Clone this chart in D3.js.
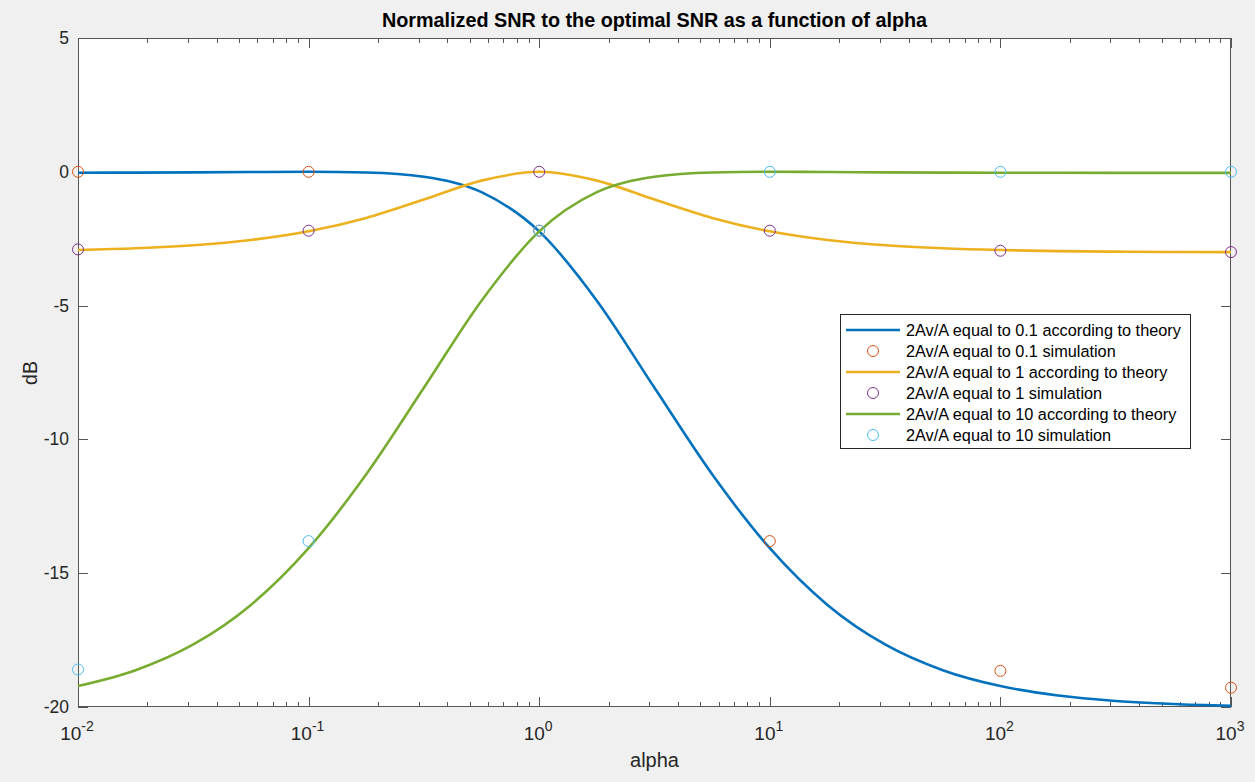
<!DOCTYPE html>
<html lang="en">
<head>
    <meta charset="UTF-8">
    <title>Normalized SNR</title>
    <script src="https://d3js.org/d3.v7.min.js"></script>
    <style>
        body { margin: 0; background: #f0f0f0; }
        text { font-family: Arial, "Liberation Sans", Helvetica, sans-serif; fill: #262626; }
    </style>
</head>
<body>
    <svg></svg>
    <script>
        // theory curves sampled at 4 points per decade
        const alphaTheory = [0.01, 0.01778, 0.03162, 0.05623, 0.1, 0.1778, 0.3162, 0.5623, 1, 1.778, 3.162,
            5.623, 10, 17.78, 31.62, 56.23, 100, 177.8, 316.2, 562.3, 1000];
        const theory01 = [-0.035, -0.029, -0.020, -0.008, 0, -0.025, -0.187, -0.761, -2.226, -4.815, -8.071,
            -11.303, -14.066, -16.184, -17.662, -18.624, -19.216, -19.569, -19.773, -19.890, -19.957];
        const theory1 = [-2.924, -2.858, -2.745, -2.550, -2.225, -1.724, -1.038, -0.330, 0, -0.330, -1.038,
            -1.724, -2.225, -2.550, -2.745, -2.858, -2.924, -2.963, -2.983, -2.995, -3.002];
        const theory10 = [-19.216, -18.624, -17.662, -16.184, -14.066, -11.303, -8.071, -4.815, -2.226, -0.761, -0.187,
            -0.025, 0, -0.008, -0.020, -0.029, -0.035, -0.038, -0.040, -0.042, -0.042];

        // simulation points
        const alphaSim = [0.01, 0.1, 1, 10, 100, 1000];
        const sim01 = [0, 0, -2.2, -13.8, -18.65, -19.28];
        const sim1 = [-2.9, -2.2, 0, -2.2, -2.95, -3.0];
        const sim10 = [-18.6, -13.8, -2.2, 0, 0, 0];

        const yTicks = [-20, -15, -10, -5, 0, 5];
        const xTickExp = [-2, -1, 0, 1, 2, 3];

        const width = 1255, height = 782;
        const mLeft = 78, mRight = 1231, mTop = 38, mBottom = 707;

        const svg = d3.select("svg").attr("width", width).attr("height", height);
        svg.append("rect").attr("width", width).attr("height", height).attr("fill", "#f0f0f0");
        svg.append("rect").attr("x", mLeft).attr("y", mTop)
            .attr("width", mRight - mLeft).attr("height", mBottom - mTop).attr("fill", "#fff");

        const x = d3.scaleLog().domain([1e-2, 1e3]).range([mLeft, mRight]);
        const y = d3.scaleLinear().domain([-20, 5]).range([mBottom, mTop]);

        // ticks (inward, on all four sides)
        const ax = svg.append("g").attr("stroke", "#555").attr("stroke-width", 1);
        const minor = [];
        xTickExp.slice(0, -1).forEach(e => { for (let m = 2; m <= 9; m++) minor.push(m * Math.pow(10, e)); });
        xTickExp.forEach(e => {
            const px = Math.round(x(Math.pow(10, e))) + 0.5;
            ax.append("line").attr("x1", px).attr("x2", px).attr("y1", mBottom).attr("y2", mBottom - 10);
            ax.append("line").attr("x1", px).attr("x2", px).attr("y1", mTop).attr("y2", mTop + 10);
        });
        minor.forEach(v => {
            const px = Math.round(x(v)) + 0.5;
            ax.append("line").attr("x1", px).attr("x2", px).attr("y1", mBottom).attr("y2", mBottom - 5);
            ax.append("line").attr("x1", px).attr("x2", px).attr("y1", mTop).attr("y2", mTop + 5);
        });
        yTicks.forEach(t => {
            const py = Math.round(y(t)) + 0.5;
            ax.append("line").attr("x1", mLeft).attr("x2", mLeft + 10).attr("y1", py).attr("y2", py);
            ax.append("line").attr("x1", mRight).attr("x2", mRight - 10).attr("y1", py).attr("y2", py);
        });
        ax.append("rect").attr("x", mLeft + 0.5).attr("y", mTop + 0.5)
            .attr("width", mRight - mLeft - 1).attr("height", mBottom - mTop - 1).attr("fill", "none");

        // tick labels
        svg.selectAll(".ylab").data(yTicks).join("text")
            .attr("x", mLeft - 9).attr("y", d => y(d) + 6)
            .attr("text-anchor", "end").attr("font-size", 17.5).text(d => d);
        const xl = svg.selectAll(".xlab").data(xTickExp).join("text")
            .attr("x", d => x(Math.pow(10, d)) - 1).attr("y", 740)
            .attr("text-anchor", "middle").attr("font-size", 19);
        xl.append("tspan").text("10");
        xl.append("tspan").attr("dy", -9).attr("font-size", 14).text(d => d);

        // titles
        svg.append("text").attr("x", (mLeft + mRight) / 2).attr("y", 27).attr("text-anchor", "middle")
            .attr("font-size", 19.8).attr("font-weight", "bold").style("fill", "#000")
            .text("Normalized SNR to the optimal SNR as a function of alpha");
        svg.append("text").attr("x", (mLeft + mRight) / 2).attr("y", 767).attr("text-anchor", "middle")
            .attr("font-size", 20).text("alpha");
        svg.append("text").attr("transform", "translate(37,373) rotate(-90)").attr("text-anchor", "middle")
            .attr("font-size", 19.5).text("dB");

        const line = d3.line().x(d => x(d[0])).y(d => y(d[1])).curve(d3.curveMonotoneX);

        const series = [
            { type: "line", ys: theory01, color: "#0072BD", label: "2Av/A equal to 0.1 according to theory" },
            { type: "dot", ys: sim01, color: "#D95319", label: "2Av/A equal to 0.1 simulation" },
            { type: "line", ys: theory1, color: "#EDB120", label: "2Av/A equal to 1 according to theory" },
            { type: "dot", ys: sim1, color: "#7E2F8E", label: "2Av/A equal to 1 simulation" },
            { type: "line", ys: theory10, color: "#77AC30", label: "2Av/A equal to 10 according to theory" },
            { type: "dot", ys: sim10, color: "#4DBEEE", label: "2Av/A equal to 10 simulation" }
        ];

        series.forEach(s => {
            if (s.type === "line") {
                svg.append("path").datum(alphaTheory.map((a, i) => [a, s.ys[i]]))
                    .attr("d", line).attr("fill", "none").attr("stroke", s.color).attr("stroke-width", 2.6);
            } else {
                svg.append("g").selectAll("circle").data(alphaSim.map((a, i) => [a, s.ys[i]])).join("circle")
                    .attr("cx", d => x(d[0])).attr("cy", d => y(d[1])).attr("r", 5.5)
                    .attr("fill", "none").attr("stroke", s.color).attr("stroke-width", 1);
            }
        });

        // legend
        const lg = svg.append("g");
        lg.append("rect").attr("x", 840.5).attr("y", 314.5).attr("width", 350).attr("height", 134)
            .attr("fill", "#fff").attr("stroke", "#262626").attr("stroke-width", 1);
        series.forEach((s, i) => {
            const cy = 330 + i * 21;
            if (s.type === "line") {
                lg.append("line").attr("x1", 846).attr("x2", 900).attr("y1", cy).attr("y2", cy)
                    .attr("stroke", s.color).attr("stroke-width", 2.6);
            } else {
                lg.append("circle").attr("cx", 873).attr("cy", cy).attr("r", 5.5)
                    .attr("fill", "none").attr("stroke", s.color);
            }
            lg.append("text").attr("x", 906).attr("y", cy + 5.5).attr("font-size", 16.3).style("fill", "#000").text(s.label);
        });
    </script>
</body>
</html>
